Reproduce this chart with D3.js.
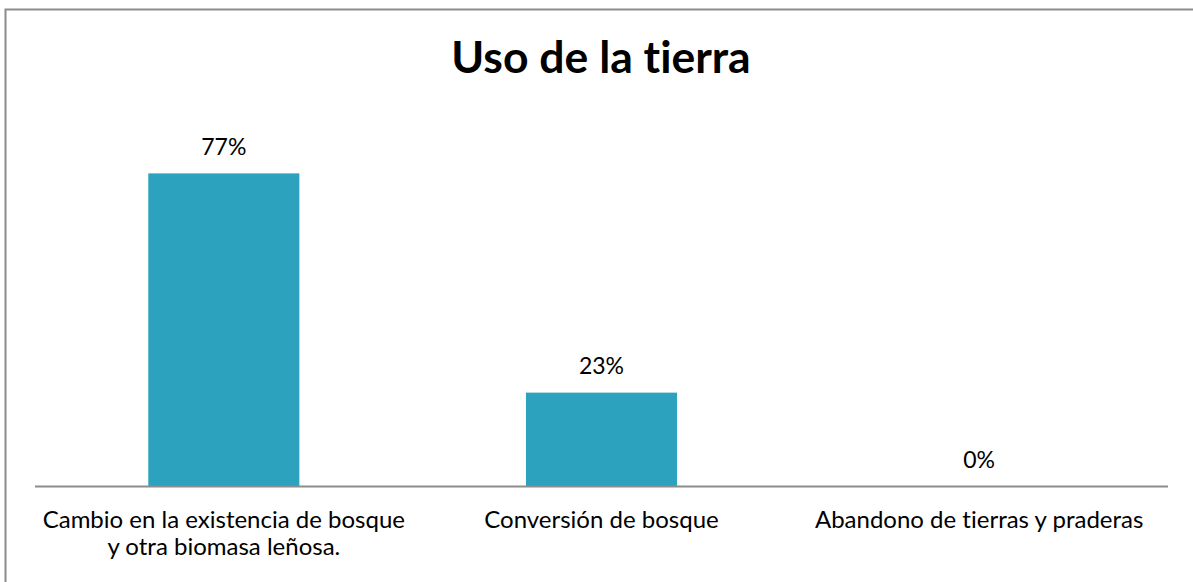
<!DOCTYPE html>
<html>
<head>
<meta charset="utf-8">
<script src="https://cdn.jsdelivr.net/npm/d3@7"></script>
<style>
  body { margin: 0; background: #fff; }
  svg { display: block; font-family: Lato, "Open Sans", sans-serif; font-variant-ligatures: none; }
</style>
</head>
<body>
<svg width="1193" height="582"></svg>
<script>
var categories = ["Cambio en la existencia de bosque\ny otra biomasa leñosa.",
                  "Conversión de bosque",
                  "Abandono de tierras y praderas"];
var values = [0.77, 0.23, 0];
var title = "Uso de la tierra";

var svg = d3.select("svg");

// outer frame (runs off the right / bottom edge like the original)
svg.append("rect")
    .attr("x", 5.5).attr("y", 9.5)
    .attr("width", 1200).attr("height", 600)
    .attr("fill", "none")
    .attr("stroke", "#8c8c8c")
    .attr("stroke-width", 2);

var left = 35, right = 1168, baseY = 486;

var x = d3.scaleBand()
    .domain(categories)
    .range([left, right])
    .paddingInner(0.6)
    .paddingOuter(0.3);

var y = d3.scaleLinear()
    .domain([0, 0.9])
    .range([baseY, baseY - 0.9 * 406]);

svg.append("text")
    .attr("x", 601).attr("y", 73)
    .attr("text-anchor", "middle")
    .attr("font-weight", "bold")
    .attr("font-size", 44.5)
    .text(title);

svg.selectAll(".bar")
    .data(values)
    .enter().append("rect")
    .attr("class", "bar")
    .attr("x", function(d, i) { return x(categories[i]); })
    .attr("y", function(d) { return y(d); })
    .attr("width", x.bandwidth())
    .attr("height", function(d) { return baseY - y(d); })
    .attr("fill", "#2da2bf");

svg.selectAll(".lbl")
    .data(values)
    .enter().append("text")
    .attr("class", "lbl")
    .attr("x", function(d, i) { return x(categories[i]) + x.bandwidth() / 2; })
    .attr("y", function(d) { return y(d) - 18.5; })
    .attr("text-anchor", "middle")
    .attr("font-size", 23)
    .text(function(d) { return d3.format(".0%")(d); });

// baseline
svg.append("line")
    .attr("x1", left).attr("x2", right)
    .attr("y1", baseY + 0.5).attr("y2", baseY + 0.5)
    .attr("stroke", "#8c8c8c")
    .attr("stroke-width", 2);

var cat = svg.selectAll(".cat")
    .data(categories)
    .enter().append("text")
    .attr("class", "cat")
    .attr("text-anchor", "middle")
    .attr("font-size", 24)
    .attr("x", function(d) { return x(d) + x.bandwidth() / 2; })
    .attr("y", 528);

cat.selectAll("tspan")
    .data(function(d) { return d.split("\n"); })
    .enter().append("tspan")
    .attr("x", function() { return d3.select(this.parentNode).attr("x"); })
    .attr("dy", function(d, i) { return i ? 26.5 : 0; })
    .text(function(d) { return d; });
</script>
</body>
</html>
